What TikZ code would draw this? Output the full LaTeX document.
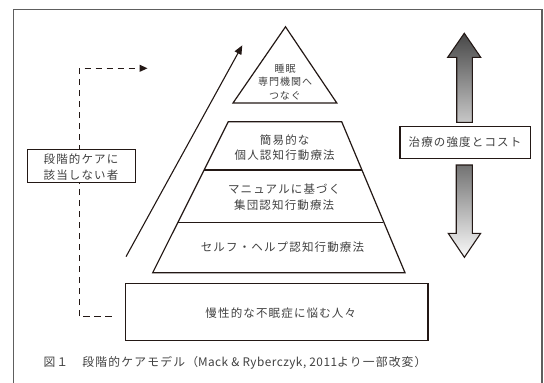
\documentclass[tikz,border=0pt]{standalone}
\usepackage{fontspec}
\setmainfont{Noto Sans CJK JP}
\newfontfamily\jpfont[LetterSpace=10]{Noto Sans CJK JP}
\newfontfamily\latinfont[LetterSpace=4]{Noto Sans CJK JP}
\usetikzlibrary{arrows.meta}
\definecolor{ink}{HTML}{231815}
\definecolor{txtgray}{HTML}{404040}
\definecolor{framegray}{HTML}{5E5E5E}
\tikzset{
  line/.style={draw=ink, line width=1.2pt},
  txt/.style={text=txtgray, align=center, inner sep=0pt, font=\jpfont\fontsize{11.5}{15.5}\selectfont},
  captxt/.style={text=txtgray, align=left, inner sep=0pt, font=\jpfont\fontsize{11.8}{15}\selectfont},
  smalltxt/.style={text=txtgray, align=center, inner sep=0pt, font=\jpfont\fontsize{10}{13.7}\selectfont},
  labelbox/.style={draw=ink, line width=1.1pt, fill=white, inner sep=0pt},
  dashline/.style={draw=ink, line width=1.1pt, dash pattern=on 6.5pt off 4.5pt},
  bigarrow/.style={draw=ink, line width=1.1pt},
}
\begin{document}
\begin{tikzpicture}[x=1pt, y=-1pt]
\useasboundingbox (0,0) rectangle (544,383);
\clip (0,0) rectangle (544,383);
% outer frame
\draw[framegray, line width=1.3pt] (13.3,395) -- (13.3,9.3) -- (542,9.3) -- (542,395);

% top triangle
\coordinate (apex) at (285.5,26.8);
\coordinate (tbl) at (233.0,103.0);
\coordinate (tbr) at (336.8,103.0);
\draw[line] (apex) -- (tbr) -- (tbl) -- cycle;
\node[smalltxt] (top) at (285,82) {睡眠\\専門機関へ\\つなぐ};

% trapezoid layers
\coordinate (tl) at (228.3,121.7);
\coordinate (tr) at (341.7,121.7);
\coordinate (bl) at (152.7,272.7);
\coordinate (br) at (405.0,272.7);
\coordinate (d1l) at (204.3,170.0);
\coordinate (d1r) at (361.6,170.0);
\coordinate (d2l) at (177.6,222.7);
\coordinate (d2r) at (382.9,222.7);
\draw[line] (tl) -- (tr) -- (br) -- (bl) -- cycle;
\draw[line] (d1l) -- (d1r);
\draw[line] (d2l) -- (d2r);
\node[txt] (layer1) at (284.7,147.8) {簡易的な\\個人認知行動療法};
\node[txt] (layer2) at (284.2,197.2) {マニュアルに基づく\\集団認知行動療法};
\node[txt] (layer3) at (282.5,247.3) {セルフ・ヘルプ認知行動療法};

% base box
\node[labelbox, minimum width=302.8pt, minimum height=56.7pt] (base) at (276.6,311.7) {};
\node[txt] (basetxt) at (280.8,312.7) {慢性的な不眠症に悩む人々};

% diagonal arrow
\coordinate (diagS) at (126,256.7);
\coordinate (diagE) at (242.3,45.3);
\draw[ink, line width=1.1pt, -{Triangle[length=9pt,width=7.5pt]}] (diagS) -- (diagE);

% dashed connector
\coordinate (dS) at (111.7,316.7);
\coordinate (dC1) at (79.3,316.7);
\coordinate (dC2) at (79.3,68.3);
\coordinate (dE) at (147.5,68.3);
\draw[dashline, -{Triangle[length=8pt,width=7pt]}] (dS) -- (dC1) -- (dC2) -- (dE);
\node[labelbox, minimum width=107.7pt, minimum height=33.4pt] (leftbox) at (81.2,166) {};
\node[txt] (lefttxt) at (81,167) {段階的ケアに\\該当しない者};

% right box and arrows
\node[labelbox, minimum width=130.7pt, minimum height=32.3pt] (rightbox) at (465.3,142.2) {};
\node[txt] (righttxt) at (465,142.2) {治療の強度とコスト};
\shadedraw[bigarrow, top color=black!72, bottom color=black!22]
  (464.3,33.3) -- (480.7,57.3) -- (472.3,57.3) -- (472.3,122.3) -- (456.7,122.3) -- (456.7,57.3) -- (447.7,57.3) -- cycle;
\shadedraw[bigarrow, top color=black!55, bottom color=black!2]
  (456.2,165) -- (472.3,165) -- (472.3,233.3) -- (480.7,233.3) -- (464.4,257.3) -- (448.2,233.3) -- (456.2,233.3) -- cycle;

% caption
\node[captxt, anchor=west] (caption) at (43.3,363) {図１　段階的ケアモデル（{\latinfont Mack \& Ryberczyk, 2011}より一部改変）};
\end{tikzpicture}
\end{document}
